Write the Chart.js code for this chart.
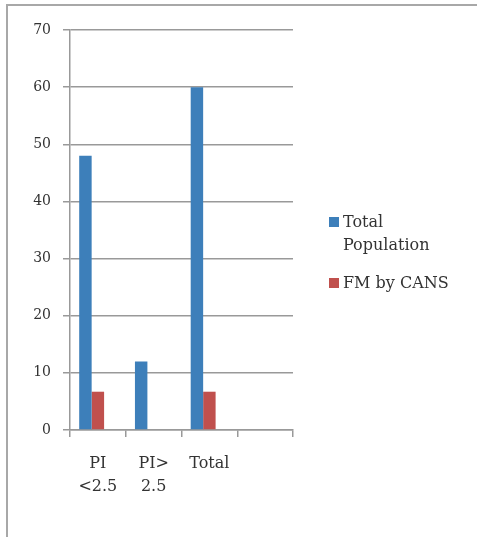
<!DOCTYPE html>
<html>
<head>
<meta charset="utf-8">
<script src="https://cdn.jsdelivr.net/npm/chart.js@4/dist/chart.umd.min.js"></script>
<style>
  body { margin: 0; background: #fff; overflow: hidden; }
  #wrap { position: relative; width: 477px; height: 537px; }
  #frame { position: absolute; left: 6px; top: 4px; width: 480px; height: 540px; border: 2px solid #a8a8a8; box-sizing: border-box; }
  canvas { position: absolute; left: 0; top: 0; }
  #legend { position: absolute; left: 329px; top: 210px; font-family: "DejaVu Serif", serif; font-size: 16px; color: #333; }
  .item { position: relative; padding-left: 14px; line-height: 23px; margin-bottom: 15px; }
  .box { position: absolute; left: 0; top: 7px; width: 10px; height: 10px; }
</style>
</head>
<body>
<div id="wrap">
  <div id="frame"></div>
  <canvas id="bar-chart" width="477" height="537"></canvas>
  <div id="legend"></div>
</div>
<script>
var categories = [['PI', '<2.5'], ['PI>', '2.5'], 'Total', ''];
var totalPopulation = [48, 12, 60, null];
var fmByCans = [6.7, null, 6.7, null];
var yTicks = [0, 10, 20, 30, 40, 50, 60, 70];

var seriesNames = ['Total\nPopulation', 'FM by CANS'];
var seriesColors = ['#3d7fba', '#c0504d'];

var ctx = document.getElementById('bar-chart').getContext('2d');
var chart = new Chart(ctx, {
  type: 'bar',
  data: {
    labels: categories,
    datasets: [
      { label: seriesNames[0], data: totalPopulation, backgroundColor: seriesColors[0] },
      { label: seriesNames[1], data: fmByCans, backgroundColor: seriesColors[1] },
      // empty third slot, the original chart keeps room for it
      { label: '', data: [null, null, null, null], backgroundColor: 'rgba(0,0,0,0)' }
    ]
  },
  options: {
    responsive: false,
    animation: false,
    layout: { padding: { top: 30, right: 184, left: 0, bottom: 0 } },
    datasets: { bar: { categoryPercentage: 0.67, barPercentage: 1 } },
    plugins: { legend: { display: false }, tooltip: { enabled: false } },
    scales: {
      x: {
        grid: { display: true, drawOnChartArea: false, drawTicks: true, tickLength: 7, color: '#999', lineWidth: 1.5, offset: true },
        border: { color: '#999', width: 1.5 },
        ticks: {
          padding: 15, maxRotation: 0, autoSkip: false, color: '#333',
          font: { family: 'DejaVu Serif', size: 16, lineHeight: 1.45 }
        },
        afterFit: function (scale) { scale.height = 107; }
      },
      y: {
        min: 0, max: 70,
        afterBuildTicks: function (scale) { scale.ticks = yTicks.map(function (v) { return { value: v }; }); },
        grid: { color: '#999', lineWidth: 1.5, tickLength: 7 },
        border: { color: '#999', width: 1.5 },
        ticks: { padding: 12, color: '#333', font: { family: 'DejaVu Serif', size: 14 } },
        afterFit: function (scale) { scale.width = 70; }
      }
    }
  }
});

var legend = document.getElementById('legend');
seriesNames.forEach(function (name, i) {
  var d = document.createElement('div');
  d.className = 'item';
  d.innerHTML = '<span class="box" style="background:' + seriesColors[i] + '"></span>' + name.replace('\n', '<br>');
  legend.appendChild(d);
});
</script>
</body>
</html>
